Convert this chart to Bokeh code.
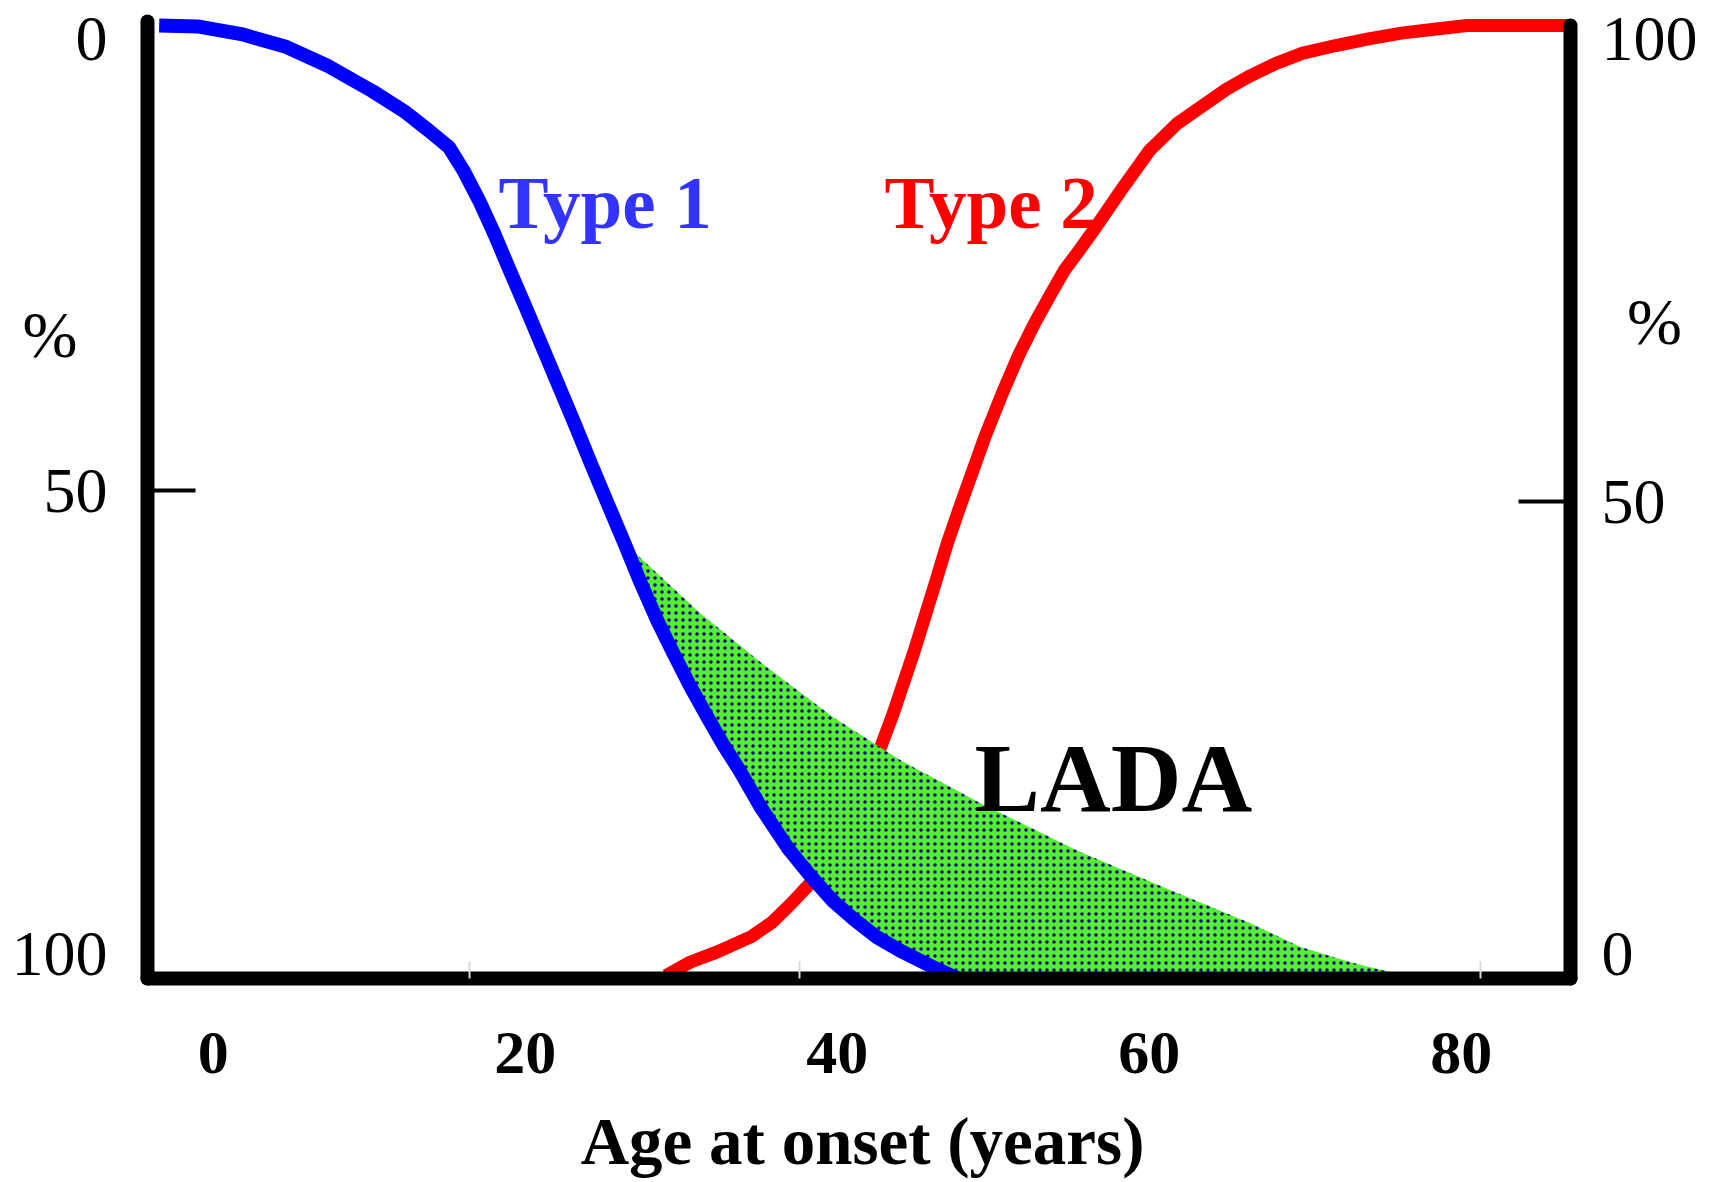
import numpy as np
from bokeh.plotting import figure
from bokeh.models import Range1d, LinearAxis, FixedTicker
from bokeh.core.properties import value
from bokeh.embed import file_html
from bokeh.resources import INLINE

# ---- data ----
# Type 1 curve: age at onset (years) vs % on the LEFT axis (0 at top, 100 at bottom)
type1_age = [-3.47, -1.01, 1.79, 4.60, 7.41, 10.21, 12.32, 13.72, 15.12, 16.03, 17.02,
             18.00, 18.98, 20.03, 21.09, 22.14, 23.19, 24.24, 25.29, 26.35, 27.40,
             28.45, 29.50, 30.56, 31.61, 32.66, 33.71, 35.12, 36.87, 38.27, 39.68,
             41.08, 42.48, 44.17, 45.99, 47.74]
type1_pct = [0.0, 0.1, 0.9, 2.2, 4.3, 6.9, 9.1, 10.9, 12.8, 15.2, 18.3,
             21.8, 25.6, 29.6, 33.7, 37.8, 41.9, 46.1, 50.2, 54.3, 58.5,
             62.4, 65.9, 69.3, 72.4, 75.4, 78.1, 82.1, 86.4, 89.2, 91.8,
             93.8, 95.6, 97.2, 98.7, 100.0]

# Type 2 curve: age at onset (years) vs % on the RIGHT axis (0 at bottom, 100 at top)
type2_age = [29.01, 30.56, 32.31, 34.49, 35.82, 37.01, 38.27, 39.33, 40.24, 41.08,
             41.92, 42.83, 43.54, 44.24, 44.94, 45.64, 46.34, 47.04, 47.88, 48.80,
             49.50, 50.55, 51.60, 52.66, 53.71, 54.55, 55.46, 56.51, 58.27, 60.02,
             61.78, 63.53, 64.93, 66.34, 68.09, 69.84, 71.95, 74.05, 76.16, 78.26,
             80.37, 82.47, 84.58, 87.0]
type2_pct = [0.3, 1.7, 2.8, 4.4, 5.9, 7.8, 10.0, 12.3, 15.0, 17.9,
             21.1, 24.5, 27.6, 31.0, 34.4, 38.1, 41.8, 45.6, 49.6, 53.8,
             57.0, 61.3, 65.3, 68.8, 71.9, 74.3, 76.3, 78.7, 82.9, 86.9,
             89.7, 91.7, 93.3, 94.6, 96.0, 97.1, 97.9, 98.6, 99.2, 99.6,
             100.0, 100.0, 100.0, 100.0]

# LADA region: upper boundary (left-axis %); its lower boundary is the Type 1 curve
lada_age = [26.35, 31.23, 35.53, 39.76, 44.05, 49.18, 55.40, 60.72, 66.49, 69.69,
            72.90, 74.50, 75.65, 76.30]
lada_pct = [54.3, 61.7, 67.4, 72.6, 77.1, 81.6, 86.6, 90.3, 94.2, 96.7,
            98.3, 98.95, 99.4, 100.0]

x_ticks = [0, 20, 40, 60, 80]
faint_x_ticks = [16.4, 37.6, 81.2]
left_ticks = [1.4, 48.8, 97.4]
left_tick_labels = {1.4: "0", 48.8: "50", 97.4: "100"}
right_ticks = [2.6, 50, 98.6]
right_tick_labels = {2.6: "0", 50: "50", 98.6: "100"}

SERIF = "Liberation Serif"

W, H = 1716, 1182
p = figure(width=W, height=H, output_backend="svg", toolbar_location=None,
           x_range=Range1d(-13.641, 96.359), y_range=Range1d(-21.406, 102.623),
           y_axis_location="right",
           min_border_left=0, min_border_right=0, min_border_top=0, min_border_bottom=0)
p.extra_y_ranges = {"left": Range1d(start=121.406, end=-2.623)}
p.grid.visible = False
p.outline_line_color = None
p.background_fill_color = "white"
p.border_fill_color = "white"

# ---- axes (placed inside the canvas with fixed_location) ----
xa = p.xaxis[0]
xa.fixed_location = 0
xa.bounds = (-4.22, 87.0)
xa.ticker = FixedTicker(ticks=x_ticks, minor_ticks=faint_x_ticks)
xa.axis_line_width = 14
xa.axis_line_color = "black"
xa.axis_line_cap = "round"
xa.major_tick_in = 0
xa.major_tick_out = 0
xa.minor_tick_in = 17
xa.minor_tick_out = 0
xa.minor_tick_line_color = "#d9d9d9"
xa.minor_tick_line_width = 2
xa.major_label_standoff = 54
xa.major_label_text_font = SERIF
xa.major_label_text_font_style = "bold"
xa.major_label_text_font_size = "62px"
xa.major_label_text_color = "black"

ra = p.yaxis[0]
ra.fixed_location = 87.0
ra.bounds = (0, 100)
ra.ticker = FixedTicker(ticks=right_ticks, minor_ticks=[50])
ra.major_label_overrides = right_tick_labels
ra.axis_line_width = 14
ra.axis_line_cap = "round"
ra.major_tick_in = 0
ra.major_tick_out = 0
ra.minor_tick_in = 52
ra.minor_tick_out = 0
ra.minor_tick_line_width = 4
ra.minor_tick_line_color = "black"
ra.major_label_standoff = 31
ra.major_label_text_font = SERIF
ra.major_label_text_font_size = "64px"
ra.major_label_text_color = "black"

la = LinearAxis(y_range_name="left")
la.fixed_location = -4.22
la.bounds = (-0.4, 100)
la.ticker = FixedTicker(ticks=left_ticks, minor_ticks=[48.8])
la.major_label_overrides = left_tick_labels
la.axis_line_width = 14
la.axis_line_cap = "round"
la.major_tick_in = 0
la.major_tick_out = 0
la.minor_tick_in = 48
la.minor_tick_out = 0
la.minor_tick_line_width = 4
la.minor_tick_line_color = "black"
la.major_label_standoff = 40
la.major_label_text_font = SERIF
la.major_label_text_font_size = "64px"
la.major_label_text_color = "black"
p.add_layout(la, "left")

# ---- glyphs ----
p.line(type2_age, type2_pct, line_color="#ff0000", line_width=13, line_join="round")

t1x = np.array(type1_age)
t1y = np.array(type1_pct)
mask = t1x >= lada_age[0]
patch_x = list(lada_age) + list(t1x[mask][::-1])
patch_y = list(lada_pct) + list(t1y[mask][::-1])
p.patch(patch_x, patch_y, y_range_name="left", fill_color="#55ee33", line_color=None,
        hatch_pattern="dot", hatch_color="#000080", hatch_scale=7, hatch_weight=2)

p.line(type1_age, type1_pct, y_range_name="left", line_color="#0000ff", line_width=14,
       line_join="round")

# ---- text ----
F = value(SERIF)
p.text(x=[18.28], y=[81.4], text=["Type 1"], text_font=F, text_font_style="bold",
       text_font_size="75px", text_color="#3333ff", text_baseline="alphabetic",
       text_align="left")
p.text(x=[43.03], y=[81.4], text=["Type 2"], text_font=F, text_font_style="bold",
       text_font_size="75px", text_color="#ff0000", text_baseline="alphabetic",
       text_align="left")
p.text(x=[48.8], y=[21.0], text=["LADA"], text_font=F, text_font_style="bold",
       text_font_size="98px", text_color="black", text_baseline="alphabetic",
       text_align="left")
p.text(x=[-10.47, 92.38], y=[67.6, 68.9], text=["%", "%"], text_font=F,
       text_font_size="66px", text_color="black", text_align="center",
       text_baseline="middle")
p.text(x=[41.62], y=[-17.0], text=["Age at onset (years)"], text_font=F,
       text_font_style="bold", text_font_size="67px", text_color="black",
       text_align="center", text_baseline="alphabetic")

open("out.html", "w").write(file_html(p, INLINE))
